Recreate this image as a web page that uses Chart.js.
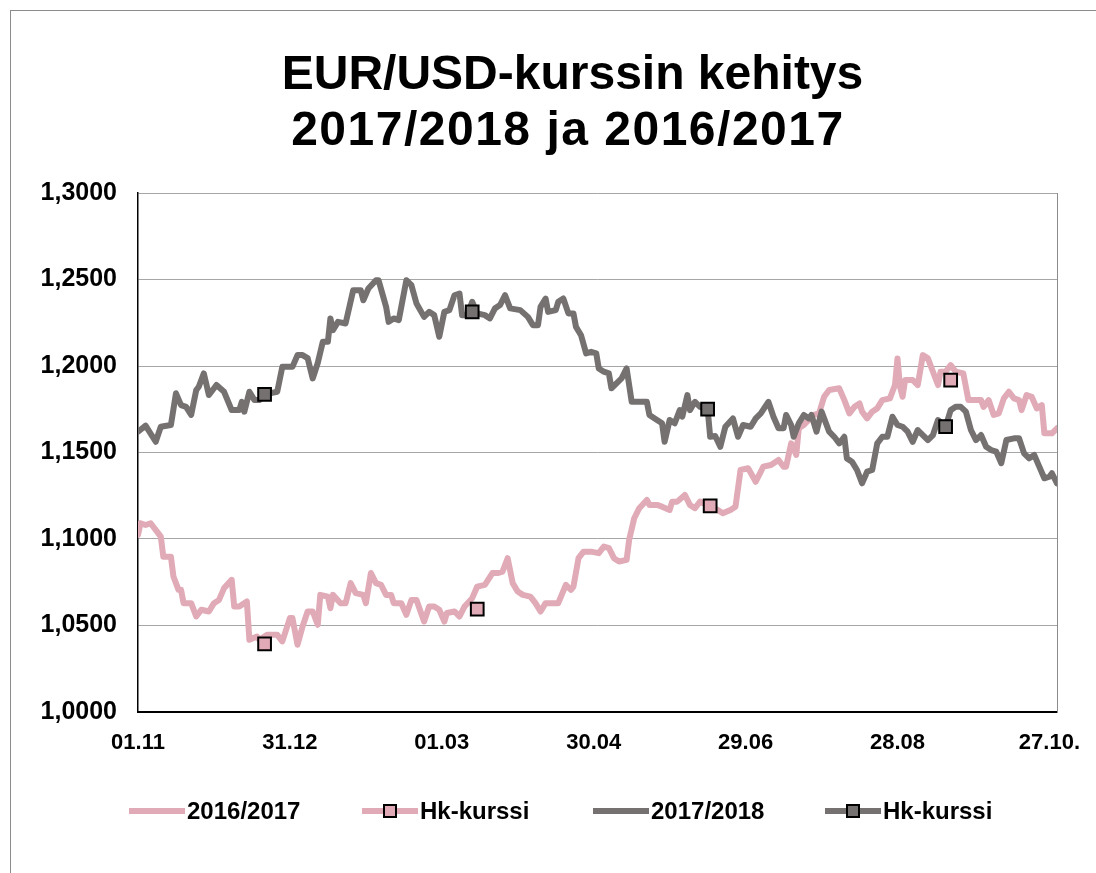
<!DOCTYPE html>
<html>
<head>
<meta charset="utf-8">
<script src="https://cdn.jsdelivr.net/npm/chart.js@4.4.0/dist/chart.umd.min.js"></script>
<style>
  html, body { margin: 0; padding: 0; background: #fff; overflow: hidden; width: 1096px; height: 873px; }
  canvas { position: absolute; left: 0; top: 0; }
</style>
</head>
<body>
<canvas id="c" width="1145" height="873"></canvas>
<script>
const titleLines = ['EUR/USD-kurssin kehitys', ' 2017/2018 ja 2016/2017'];
const seriesNames = ['2016/2017', 'Hk-kurssi', '2017/2018', 'Hk-kurssi'];
const tickDays = [0, 60, 120, 180, 240, 300, 360];
const tickLabels = ['01.11', '31.12', '01.03', '30.04', '29.06', '28.08', '27.10.'];

const days1617 = [0,1,3,5,9,10,13,14,16,17,18,21,23,25,28,30,32,34,37,38,40,43,44,47,48,51,55,57,60,61,63,65,67,69,71,72,75,76,77,80,82,84,86,89,90,92,94,96,98,100,101,104,106,108,110,113,115,117,119,121,122,125,127,129,132,134,137,140,142,144,146,148,150,152,155,157,159,161,166,169,171,172,174,176,179,182,184,186,188,190,193,194,196,198,201,202,205,207,210,211,213,216,218,220,222,226,229,231,234,236,238,241,244,247,250,253,255,256,258,260,261,263,267,269,271,273,277,279,281,283,285,286,288,290,292,294,297,299,300,301,302,303,306,308,309,310,312,314,316,317,319,321,323,326,328,330,333,334,336,338,340,342,344,346,348,349,351,353,355,357,358,361,363];
const eur1617 = [1.1024,1.1091,1.1081,1.1091,1.1014,1.0898,1.0898,1.0783,1.0706,1.0706,1.0629,1.0629,1.0552,1.0591,1.0581,1.0629,1.0648,1.0716,1.0764,1.0610,1.0610,1.0639,1.0417,1.0436,1.0417,1.0446,1.0446,1.0408,1.0543,1.0543,1.0389,1.0494,1.0581,1.0581,1.0504,1.0677,1.0667,1.0600,1.0677,1.0629,1.0629,1.0745,1.0687,1.0677,1.0629,1.0803,1.0745,1.0735,1.0677,1.0677,1.0629,1.0629,1.0562,1.0648,1.0648,1.0523,1.0610,1.0610,1.0591,1.0523,1.0572,1.0581,1.0552,1.0610,1.0658,1.0725,1.0735,1.0803,1.0803,1.0812,1.0889,1.0745,1.0696,1.0677,1.0667,1.0629,1.0581,1.0629,1.0629,1.0735,1.0706,1.0725,1.0889,1.0927,1.0927,1.0918,1.0956,1.0947,1.0889,1.0870,1.0879,1.0995,1.1120,1.1178,1.1226,1.1197,1.1197,1.1187,1.1168,1.1216,1.1216,1.1255,1.1197,1.1178,1.1216,1.1191,1.1168,1.1149,1.1168,1.1187,1.1399,1.1409,1.1331,1.1418,1.1428,1.1457,1.1418,1.1418,1.1553,1.1486,1.1640,1.1659,1.1717,1.1726,1.1822,1.1861,1.1871,1.1803,1.1726,1.1764,1.1784,1.1736,1.1697,1.1736,1.1755,1.1803,1.1813,1.1890,1.2044,1.1880,1.1822,1.1919,1.1919,1.1890,1.1976,1.2063,1.2044,1.1967,1.1890,1.1967,1.1967,1.2005,1.1967,1.1957,1.1803,1.1803,1.1803,1.1764,1.1803,1.1717,1.1726,1.1813,1.1851,1.1813,1.1803,1.1745,1.1832,1.1822,1.1755,1.1774,1.1611,1.1611,1.1640];

const days1718 = [0,3,7,9,13,15,17,19,21,23,24,26,28,31,34,37,40,41,42,44,46,48,50,55,57,61,63,65,67,69,71,73,75,76,77,79,82,85,88,89,91,94,95,98,99,101,103,104,106,108,110,113,115,117,119,121,123,125,127,128,130,132,134,137,139,141,143,145,147,151,154,156,158,159,161,162,165,166,168,170,172,173,175,177,179,181,182,184,186,187,189,191,193,195,198,201,202,205,207,208,210,212,214,215,217,218,220,222,225,226,228,230,232,235,237,239,242,244,246,249,251,253,255,256,258,259,261,263,265,266,268,270,273,275,277,279,280,282,284,286,288,290,292,294,296,298,300,302,304,306,308,310,312,314,316,319,321,323,325,327,329,331,333,335,337,339,341,343,346,348,350,352,354,356,358,360,361,363];
const eur1718 = [1.1620,1.1655,1.1562,1.1649,1.1659,1.1842,1.1774,1.1764,1.1717,1.1861,1.1880,1.1957,1.1832,1.1890,1.1851,1.1745,1.1745,1.1793,1.1736,1.1851,1.1803,1.1803,1.1836,1.1851,1.1995,1.1995,1.2063,1.2063,1.2046,1.1928,1.2017,1.2140,1.2140,1.2275,1.2207,1.2255,1.2246,1.2438,1.2438,1.2380,1.2448,1.2496,1.2496,1.2342,1.2255,1.2275,1.2265,1.2342,1.2496,1.2467,1.2361,1.2284,1.2313,1.2294,1.2169,1.2313,1.2323,1.2409,1.2419,1.2294,1.2294,1.2371,1.2304,1.2294,1.2275,1.2333,1.2352,1.2409,1.2333,1.2323,1.2284,1.2236,1.2236,1.2342,1.2390,1.2313,1.2323,1.2371,1.2390,1.2304,1.2304,1.2226,1.2178,1.2073,1.2082,1.2073,1.1986,1.1967,1.1957,1.1871,1.1900,1.1928,1.1986,1.1793,1.1793,1.1793,1.1717,1.1688,1.1669,1.1562,1.1688,1.1669,1.1745,1.1707,1.1832,1.1745,1.1793,1.1764,1.1751,1.1591,1.1595,1.1533,1.1649,1.1697,1.1591,1.1659,1.1649,1.1697,1.1726,1.1793,1.1707,1.1640,1.1640,1.1717,1.1659,1.1591,1.1669,1.1717,1.1697,1.1717,1.1620,1.1736,1.1620,1.1591,1.1553,1.1591,1.1466,1.1447,1.1399,1.1322,1.1389,1.1399,1.1553,1.1591,1.1591,1.1707,1.1659,1.1649,1.1620,1.1562,1.1630,1.1601,1.1572,1.1601,1.1688,1.1649,1.1745,1.1764,1.1764,1.1736,1.1630,1.1572,1.1601,1.1533,1.1514,1.1505,1.1438,1.1572,1.1582,1.1582,1.1495,1.1466,1.1486,1.1418,1.1351,1.1360,1.1380,1.1322];

const hkDays1617 = [50, 134, 226, 321];
const hk1617 = [1.0394, 1.0595, 1.1191, 1.1919];
const hkDays1718 = [50, 132, 225, 319];
const hk1718 = [1.1836, 1.2313, 1.1751, 1.1649];

const PINK = '#E0AAB6';
const GRAY = '#767171';
const FONT = "'Liberation Sans', Arial, sans-serif";

function pts(xs, ys) { return xs.map((x, i) => ({ x: x, y: ys[i] })); }

const framePlugin = {
  id: 'frame',
  beforeDraw(chart) {
    const ctx = chart.ctx;
    ctx.save();
    ctx.fillStyle = '#fff';
    ctx.fillRect(0, 0, chart.width, chart.height);
    ctx.strokeStyle = '#8c8c8c';
    ctx.lineWidth = 1;
    ctx.strokeRect(10.5, 10.5, 2000, 2000);
    ctx.restore();
  }
};

const titlePlugin = {
  id: 'customTitle',
  afterDraw(chart) {
    const ctx = chart.ctx;
    const cx = chart.width / 2;
    ctx.save();
    ctx.fillStyle = '#000';
    ctx.textAlign = 'center';
    ctx.textBaseline = 'alphabetic';
    ctx.font = "bold 48px " + FONT;
    ctx.fillText(titleLines[0], cx, 89);
    if ('letterSpacing' in ctx) ctx.letterSpacing = '1.5px';
    ctx.fillText(titleLines[1], cx - 12, 145);
    ctx.restore();
  }
};

const legendPlugin = {
  id: 'customLegend',
  afterDraw(chart) {
    const ctx = chart.ctx;
    const y = 811;
    const starts = [129, 362, 593, 825];
    const lineLen = 56;
    const ds = chart.data.datasets;
    ctx.save();
    ctx.font = "bold 24px " + FONT;
    ctx.textBaseline = 'middle';
    ctx.textAlign = 'left';
    ds.forEach((d, i) => {
      const x0 = starts[i];
      const col = d.legendColor;
      ctx.strokeStyle = col;
      ctx.lineWidth = 6;
      ctx.lineCap = 'butt';
      ctx.beginPath();
      ctx.moveTo(x0, y);
      ctx.lineTo(x0 + lineLen, y);
      ctx.stroke();
      if (d.showLine === false) {
        const s = 12;
        const cx = x0 + lineLen / 2;
        ctx.fillStyle = col;
        ctx.fillRect(cx - s / 2, y - s / 2, s, s);
        ctx.strokeStyle = '#000';
        ctx.lineWidth = 2;
        ctx.strokeRect(cx - s / 2, y - s / 2, s, s);
      }
      ctx.fillStyle = '#000';
      ctx.fillText(d.label, x0 + lineLen + 2, y + 1);
    });
    ctx.restore();
  }
};

new Chart(document.getElementById('c'), {
  type: 'line',
  data: {
    datasets: [
      { label: seriesNames[0], data: pts(days1617, eur1617), borderColor: PINK, legendColor: PINK, borderWidth: 6, pointRadius: 0, tension: 0, order: 4, borderJoinStyle: 'round', borderCapStyle: 'round' },
      { label: seriesNames[1], data: pts(hkDays1617, hk1617), showLine: false, legendColor: PINK, pointStyle: 'rect', pointRadius: 9, pointBackgroundColor: PINK, pointBorderColor: '#000', pointBorderWidth: 2, order: 2 },
      { label: seriesNames[2], data: pts(days1718, eur1718), borderColor: GRAY, legendColor: GRAY, borderWidth: 6, pointRadius: 0, tension: 0, order: 3, borderJoinStyle: 'round', borderCapStyle: 'round' },
      { label: seriesNames[3], data: pts(hkDays1718, hk1718), showLine: false, legendColor: GRAY, pointStyle: 'rect', pointRadius: 9, pointBackgroundColor: GRAY, pointBorderColor: '#000', pointBorderWidth: 2, order: 1 }
    ]
  },
  options: {
    responsive: false,
    animation: false,
    devicePixelRatio: 1,
    events: [],
    layout: { padding: { left: 0, right: 0, top: 193, bottom: 111 } },
    plugins: {
      legend: { display: false },
      tooltip: { enabled: false },
      title: { display: false }
    },
    scales: {
      x: {
        type: 'linear',
        min: 0,
        max: 363,
        afterBuildTicks(scale) { scale.ticks = tickDays.map(v => ({ value: v })); },
        afterFit(scale) { scale.height = 50; },
        ticks: {
          autoSkip: false, maxRotation: 0, padding: 10, color: '#000',
          font: { family: FONT, size: 22, weight: 'bold' },
          callback: (v) => tickLabels[tickDays.indexOf(v)]
        },
        grid: { display: false },
        border: { display: true, color: '#000', width: 2 }
      },
      y: {
        position: 'left',
        min: 1.0,
        max: 1.3,
        afterFit(scale) { scale.width = 138; },
        ticks: {
          stepSize: 0.05, padding: 21, color: '#000',
          font: { family: FONT, size: 25, weight: 'bold' },
          callback: (v) => v.toFixed(4).replace('.', ',')
        },
        grid: { color: '#a6a6a6', lineWidth: 1, drawTicks: false },
        border: { display: true, color: '#000', width: 1.5 }
      },
      yRight: {
        position: 'right',
        min: 0,
        max: 1,
        afterFit(scale) { scale.width = 88; },
        ticks: { display: false },
        grid: { display: false, drawTicks: false },
        border: { display: true, color: '#8c8c8c', width: 1 }
      }
    }
  },
  plugins: [framePlugin, titlePlugin, legendPlugin]
});
</script>
</body>
</html>
